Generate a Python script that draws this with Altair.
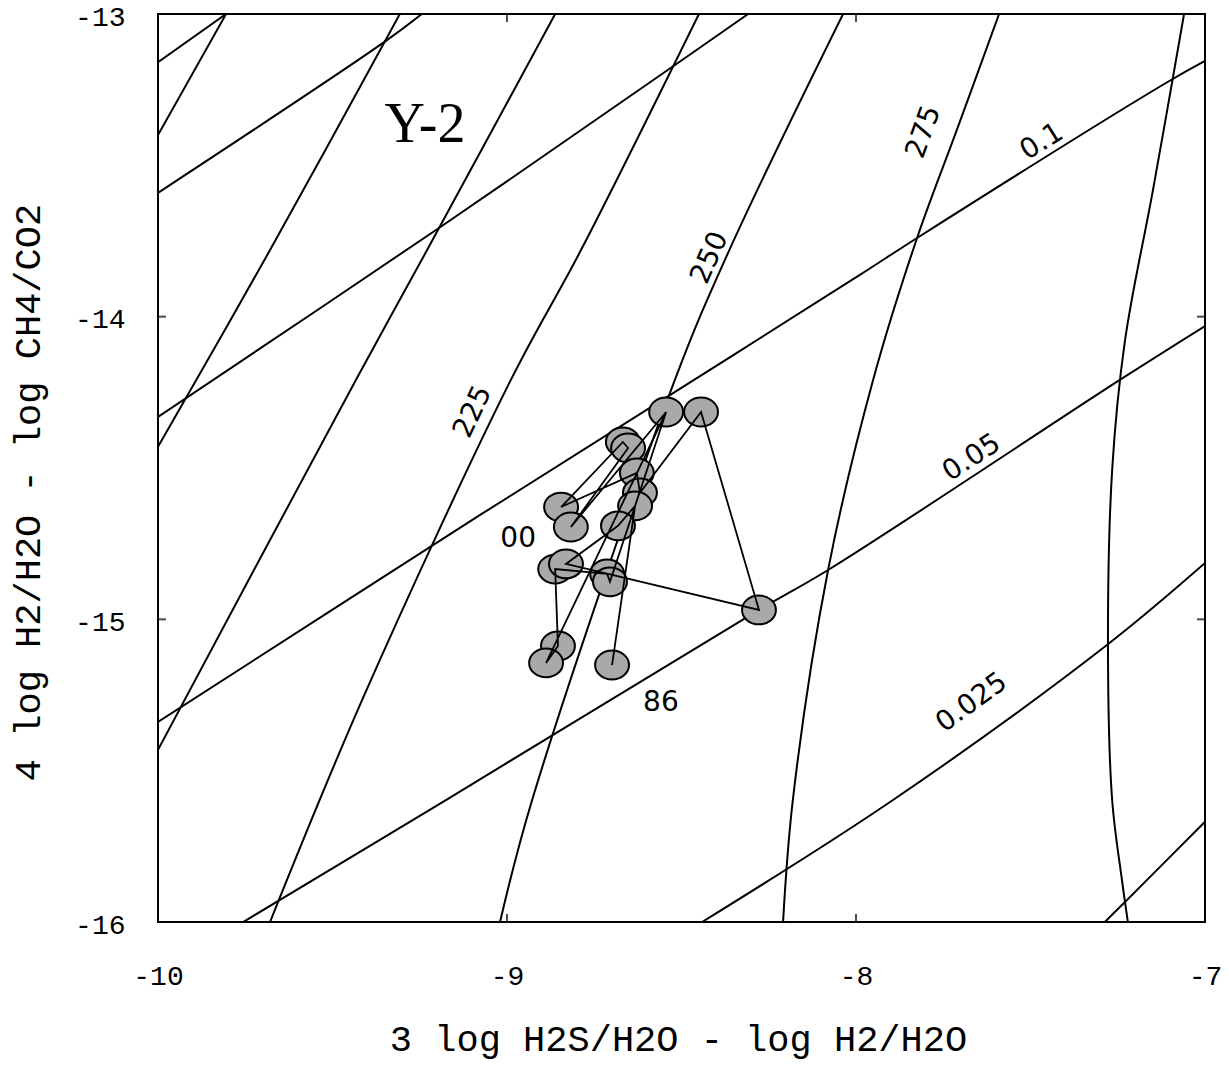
import altair as alt
import pandas as pd

# Axis ranges and tick values
X_DOMAIN = [-10, -7]
Y_DOMAIN = [-16, -13]
X_TICKS = [-10, -9, -8, -7]
Y_TICKS = [-13, -14, -15, -16]

# Isotherms (steep curves), left to right
t1_x = [-10.0, -9.805]
t1_y = [-13.40, -13.0]
t2_x = [-10.0, -9.679, -9.307]
t2_y = [-14.430, -13.780, -13.0]
t3_x = [-10.0, -9.433, -9.229, -8.862]
t3_y = [-15.431, -14.209, -13.780, -13.0]
t225_x = [-9.679, -9.415, -8.989, -8.788, -8.450]
t225_y = [-16.0, -15.266, -14.209, -13.780, -13.0]
t250_x = [-9.020, -8.928, -8.519, -8.363, -8.037]
t250_y = [-16.0, -15.597, -14.209, -13.780, -13.0]
t275_x = [-8.209, -8.181, -8.080, -7.951, -7.825, -7.711, -7.590]
t275_y = [-16.0, -15.597, -14.837, -14.209, -13.740, -13.383, -13.0]
t300_x = [-7.221, -7.238, -7.266, -7.278, -7.266, -7.229, -7.149, -7.060]
t300_y = [-16.0, -15.861, -15.597, -15.085, -14.506, -14.077, -13.581, -13.0]

# Isopleths (shallow curves), top to bottom
s1_x = [-10.0, -9.805]
s1_y = [-13.159, -13.0]
s2_x = [-10.0, -9.347, -9.244]
s2_y = [-13.591, -13.089, -13.0]
s3_x = [-10.0, -9.195, -8.527, -8.309]
s3_y = [-14.331, -13.707, -13.175, -13.0]
s010_x = [-10.0, -9.077, -8.464, -7.989, -7.825, -7.112, -7.0]
s010_y = [-15.339, -14.655, -14.209, -13.862, -13.740, -13.228, -13.155]
s005_x = [-9.756, -9.175, -8.278, -8.080, -7.244, -7.0]
s005_y = [-16.0, -15.597, -14.969, -14.837, -14.209, -14.031]
s0025_x = [-8.441, -7.894, -7.281, -7.0]
s0025_y = [-16.0, -15.597, -15.085, -14.814]
s7_x = [-7.287, -7.232, -7.0]
s7_y = [-16.0, -15.937, -15.669]

# Well samples
sample_x = [-8.544, -8.444, -8.668, -8.653, -8.628, -8.619, -8.633, -8.845, -8.817,
            -8.682, -8.862, -8.831, -8.713, -8.705, -8.278, -8.854, -8.888, -8.699]
sample_y = [-14.315, -14.315, -14.414, -14.434, -14.516, -14.582, -14.625, -14.629, -14.695,
            -14.691, -14.834, -14.817, -14.850, -14.876, -14.969, -15.088, -15.144, -15.151]
# order in which the samples are joined
sample_path = [17, 6, 9, 11, 14, 1, 5, 4, 7, 2, 3, 8, 0, 16, 15, 10, 12, 13, 0]

# Curve labels
label_text = ["225", "250", "275", "0.1", "0.05", "0.025", "00", "86"]
label_x = [-9.097, -8.418, -7.805, -7.467, -7.668, -7.668, -8.968, -8.559]
label_y = [-14.315, -13.806, -13.390, -13.423, -14.467, -15.276, -14.734, -15.276]
label_angle = [295, 294, 290, 328, 327, 324, 0, 0]

well_name = "Y-2"
well_x = [-9.235]
well_y = [-13.367]

curves = [
    ("t1", t1_x, t1_y), ("t2", t2_x, t2_y), ("t3", t3_x, t3_y),
    ("t225", t225_x, t225_y), ("t250", t250_x, t250_y), ("t275", t275_x, t275_y),
    ("t300", t300_x, t300_y),
    ("s1", s1_x, s1_y), ("s2", s2_x, s2_y), ("s3", s3_x, s3_y),
    ("s010", s010_x, s010_y), ("s005", s005_x, s005_y), ("s0025", s0025_x, s0025_y),
    ("s7", s7_x, s7_y),
]
rows = []
for name, xs, ys in curves:
    for i, (xv, yv) in enumerate(zip(xs, ys)):
        rows.append({"curve": name, "step": i, "x": xv, "y": yv})
contours = pd.DataFrame(rows)

samples = pd.DataFrame({"x": sample_x, "y": sample_y})
path = pd.DataFrame({
    "step": list(range(len(sample_path))),
    "x": [sample_x[i] for i in sample_path],
    "y": [sample_y[i] for i in sample_path],
})
labels = pd.DataFrame({"text": label_text, "x": label_x, "y": label_y, "angle": label_angle})
well = pd.DataFrame({"text": [well_name], "x": well_x, "y": well_y})

xticks = pd.DataFrame({"x": X_TICKS * 2, "y": [Y_DOMAIN[0]] * 4 + [Y_DOMAIN[1]] * 4})
yticks = pd.DataFrame({"x": [X_DOMAIN[0]] * 4 + [X_DOMAIN[1]] * 4, "y": Y_TICKS * 2})

MONO = "Liberation Mono"

x_axis = alt.Axis(
    values=X_TICKS, labelExpr="'' + datum.value", ticks=False, domain=False, grid=False,
    labelFont=MONO, labelFontSize=28, labelColor="black", labelPadding=40,
    labelFlush=False, labelOverlap=False,
    title="3 log H2S/H2O - log H2/H2O", titleFont=MONO, titleFontSize=37,
    titleFontWeight="normal", titleColor="black",
    titleX=520, titleY=117, titleBaseline="middle", titleAlign="center",
)
y_axis = alt.Axis(
    values=Y_TICKS, labelExpr="'' + datum.value", ticks=False, domain=False, grid=False,
    labelFont=MONO, labelFontSize=28, labelColor="black", labelPadding=33,
    labelOffset=3, labelFlush=False, labelOverlap=False,
    title="4 log H2/H2O - log CH4/CO2", titleFont=MONO, titleFontSize=37,
    titleFontWeight="normal", titleColor="black", titleAngle=270,
    titleX=-130, titleY=478, titleBaseline="middle", titleAlign="center",
)

X = alt.X("x:Q", scale=alt.Scale(domain=X_DOMAIN, nice=False, zero=False), axis=x_axis)
Y = alt.Y("y:Q", scale=alt.Scale(domain=Y_DOMAIN, nice=False, zero=False), axis=y_axis)

grid_lines = alt.Chart(contours).mark_line(
    color="black", strokeWidth=2, interpolate="catmull-rom", clip=True
).encode(x=X, y=Y, detail="curve:N", order="step:Q")

ellipse = "M-1,0 A1,0.85 0 1,1 1,0 A1,0.85 0 1,1 -1,0 Z"
points = alt.Chart(samples).mark_point(
    shape=ellipse, size=1150, filled=True, fill="#a9a9a9", fillOpacity=1,
    stroke="black", strokeWidth=2, opacity=1
).encode(x=X, y=Y)

links = alt.Chart(path).mark_line(color="black", strokeWidth=1.8).encode(
    x=X, y=Y, order="step:Q"
)

xtick_marks = alt.Chart(xticks).mark_tick(
    orient="vertical", size=16, thickness=2, color="black", clip=True
).encode(x=X, y=Y)
ytick_marks = alt.Chart(yticks).mark_tick(
    orient="horizontal", size=16, thickness=2, color="black", clip=True
).encode(x=X, y=Y)

curve_labels = alt.Chart(labels).mark_text(
    font="DejaVu Sans", fontSize=28, color="black", align="center", baseline="middle"
).encode(x=X, y=Y, text="text:N", angle=alt.Angle("angle:Q", scale=None))

well_label = alt.Chart(well).mark_text(
    font="Liberation Serif", fontSize=56, color="black", align="center", baseline="middle"
).encode(x=X, y=Y, text="text:N")

chart = alt.layer(
    grid_lines, points, links, xtick_marks, ytick_marks, curve_labels, well_label
).properties(
    width=1047,
    height=908,
    autosize=alt.AutoSizeParams(type="none"),
    padding={"left": 158, "top": 14, "right": 24, "bottom": 143},
    background="white",
).configure_view(stroke="black", strokeWidth=2)

chart.save("out.html", embed_options={"renderer": "svg", "actions": False})
